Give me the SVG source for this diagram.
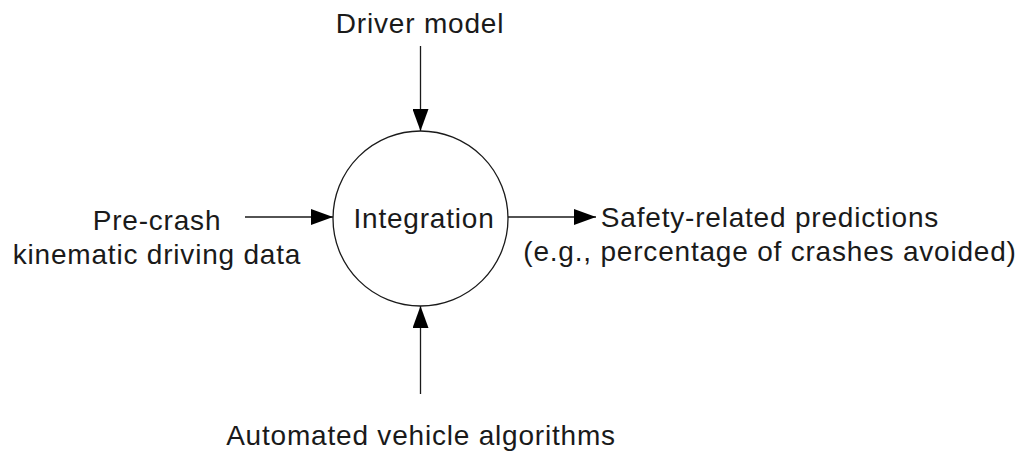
<svg xmlns="http://www.w3.org/2000/svg" width="1016" height="452" viewBox="0 0 1016 452">
  <style>
    .lbl { font-family: "Liberation Sans", Arial, sans-serif; font-size: 28px; letter-spacing: 0.8px; fill: #1a1a1a; text-anchor: middle; }
    .edge { stroke: #1a1a1a; stroke-width: 1.3; fill: none; }
    .node { stroke: #1a1a1a; stroke-width: 1.3; fill: #ffffff; }
  </style>
  <defs>
    <marker id="arrow" viewBox="0 0 22 16" refX="22" refY="8" markerWidth="22" markerHeight="16" markerUnits="userSpaceOnUse" orient="auto">
      <path d="M0,0 L22,8 L0,16 Z" fill="#000000"/>
    </marker>
  </defs>

  <g id="connectors">
    <line class="edge" x1="420.5" y1="46" x2="420.5" y2="131" marker-end="url(#arrow)"/>
    <line class="edge" x1="245" y1="217" x2="333" y2="217" marker-end="url(#arrow)"/>
    <line class="edge" x1="508" y1="217" x2="596" y2="217" marker-end="url(#arrow)"/>
    <line class="edge" x1="420.5" y1="394" x2="420.5" y2="306" marker-end="url(#arrow)"/>
  </g>

  <g id="integration">
    <circle class="node" cx="420.5" cy="218.5" r="87.5"/>
    <text class="lbl" x="424" y="228">Integration</text>
  </g>

  <g id="driver-model">
    <text class="lbl" x="420" y="33">Driver model</text>
  </g>

  <g id="pre-crash-data">
    <text class="lbl" x="157" y="230">Pre-crash</text>
    <text class="lbl" x="157" y="264">kinematic driving data</text>
  </g>

  <g id="safety-predictions">
    <text class="lbl" x="770" y="227">Safety-related predictions</text>
    <text class="lbl" x="770" y="261">(e.g., percentage of crashes avoided)</text>
  </g>

  <g id="av-algorithms">
    <text class="lbl" x="421" y="445">Automated vehicle algorithms</text>
  </g>
</svg>
